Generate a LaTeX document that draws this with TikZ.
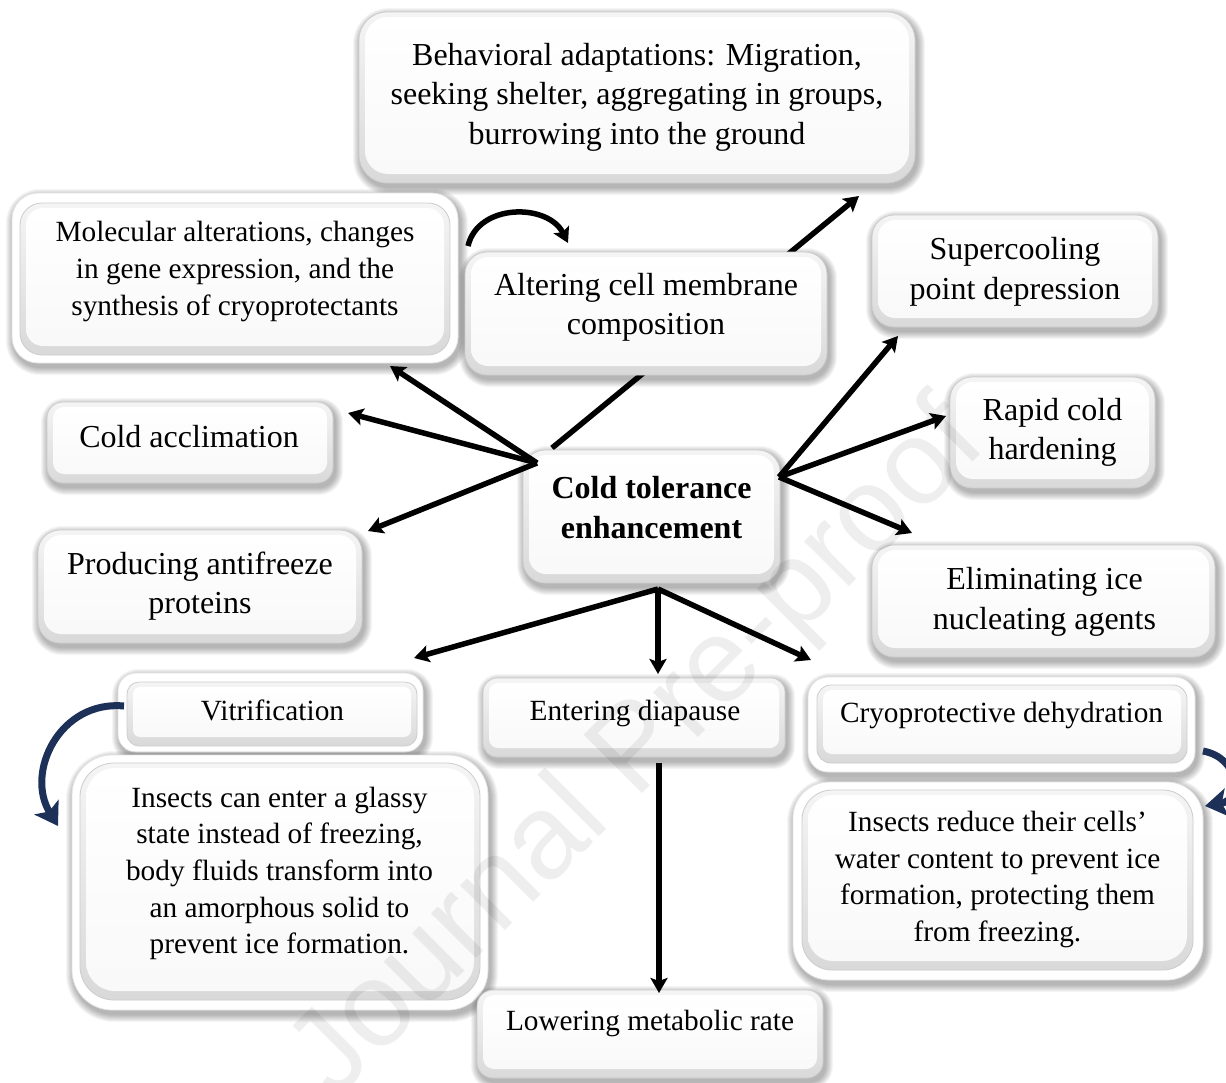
\documentclass[tikz,border=0pt]{standalone}
\usepackage{fontspec}
\setmainfont{Liberation Serif}
\newfontfamily\wmfont{Liberation Sans}
\usetikzlibrary{arrows.meta}
\definecolor{navyarr}{RGB}{28,48,88}
\tikzset{
  bevbox/.style={draw=gray!40, line width=0.8pt, top color=gray!8, bottom color=gray!30, inner sep=0pt},
  frm/.style={draw=gray!22, line width=0.8pt, fill=white, inner sep=0pt},
  tb/.style={font=\fontsize{32}{39.5}\selectfont, align=center, inner sep=0pt},
  ts/.style={font=\fontsize{29.3}{36.7}\selectfont, align=center, inner sep=0pt},
  arr/.style={line width=5.5pt, -{Stealth[length=15pt,width=17pt,inset=3pt]}},
  navarr/.style={line width=7pt, draw=navyarr, -{Stealth[length=22pt,width=28pt,inset=5pt]}},
  wm/.style={font=\wmfont\fontsize{120}{120}\selectfont, text=black, text opacity=0.065, rotate=45, inner sep=0pt}
}
\newcommand{\sshadow}[5]{%
  \foreach \k in {1,...,8}{%
    \pgfmathsetmacro\xa{#1-#3/2-\k+2}%
    \pgfmathsetmacro\xb{#1+#3/2+\k+2}%
    \pgfmathsetmacro\ya{#2-#4/2-\k+4}%
    \pgfmathsetmacro\yb{#2+#4/2+\k+4}%
    \pgfmathsetmacro\rr{#5+\k}%
    \fill[black,opacity=0.04,rounded corners=\rr pt] (\xa,\ya) rectangle (\xb,\yb);%
  }%
}
\newcommand{\bevel}[6]{%
  \node[bevbox, minimum width=#4pt, minimum height=#5pt, rounded corners=#6pt] (#1) at (#2,#3) {};%
  \pgfmathsetmacro\xa{#2-#4/2+6}%
  \pgfmathsetmacro\xb{#2+#4/2-6}%
  \pgfmathsetmacro\ya{#3-#5/2+5}%
  \pgfmathsetmacro\yb{#3+#5/2-9}%
  \pgfmathsetmacro\rr{max(#6-5,3)}%
  \shade[top color=white, bottom color=gray!5, rounded corners=\rr pt] (\xa,\ya) rectangle (\xb,\yb);%
}
\newcommand{\frmbox}[6]{%
  \node[frm, minimum width=#4pt, minimum height=#5pt, rounded corners=#6pt] (#1) at (#2,#3) {};%
}
\begin{document}
\begin{tikzpicture}[x=1pt,y=-1pt]
\useasboundingbox (0,0) rectangle (1226,1082);
\fill[white] (0,0) rectangle (1226,1082);

% Behavioral box first (arrow passes behind the membrane box)
\sshadow{637}{97.5}{556}{171}{28}
\bevel{beh}{637}{97.5}{556}{171}{28}
\node[tb] (behT) at (637,97) {Behavioral adaptations: Migration,\\ seeking shelter, aggregating in groups,\\ burrowing into the ground};

\coordinate (sBeh) at (552,448);
\coordinate (tBeh) at (859,196);
\draw[arr] (sBeh) -- (tBeh);

% Molecular (double frame)
\sshadow{235}{278}{446}{170}{26}
\frmbox{molO}{235}{278}{446}{170}{26}
\bevel{molI}{235}{279}{430}{152}{22}
\node[ts] (molT) at (235,271.5) {Molecular alterations, changes\\ in gene expression, and the\\ synthesis of cryoprotectants};

% Altering
\sshadow{646}{313.5}{362}{123}{22}
\bevel{alt}{646}{313.5}{362}{123}{22}
\node[tb] (altT) at (646,307.5) {Altering cell membrane\\ composition};

% Supercooling
\sshadow{1015}{271}{286}{112}{22}
\bevel{sup}{1015}{271}{286}{112}{22}
\node[tb] (supT) at (1015,272) {Supercooling\\ point depression};

% Cold acclimation
\sshadow{190}{442.5}{286}{81}{16}
\bevel{acc}{190}{442.5}{286}{81}{16}
\node[tb] (accT) at (189,437) {Cold acclimation};

% Centre
\sshadow{651.5}{516.5}{257}{133}{22}
\bevel{ctr}{651.5}{516.5}{257}{133}{22}
\node[tb] (ctrT) at (651.5,507.5) {\textbf{Cold tolerance}\\ \textbf{enhancement}};

% Rapid cold hardening
\sshadow{1052.5}{432.5}{205}{111}{22}
\bevel{rap}{1052.5}{432.5}{205}{111}{22}
\node[tb] (rapT) at (1052.5,432.5) {Rapid cold\\ hardening};

% Producing antifreeze proteins
\sshadow{200}{586.5}{324}{113}{22}
\bevel{pro}{200}{586.5}{324}{113}{22}
\node[tb] (proT) at (200,586) {Producing antifreeze\\ proteins};

% Eliminating
\sshadow{1043.5}{601}{343}{112}{22}
\bevel{eli}{1043.5}{601}{343}{112}{22}
\node[tb] (eliT) at (1044.5,602) {Eliminating ice\\ nucleating agents};

% Vitrification (double frame)
\sshadow{270.5}{712.5}{305}{79}{18}
\frmbox{vitO}{270.5}{712.5}{305}{79}{18}
\bevel{vitI}{272}{714}{290}{64}{12}
\node[ts] (vitT) at (272.5,710) {Vitrification};

% Entering diapause
\sshadow{634}{717.5}{302}{79}{14}
\bevel{dia}{634}{717.5}{302}{79}{14}
\node[ts] (diaT) at (635,713) {Entering diapause};

% Cryoprotective dehydration (double frame)
\sshadow{1001.5}{724.5}{387}{95}{20}
\frmbox{cryO}{1001.5}{724.5}{387}{95}{20}
\bevel{cryI}{1002}{724}{370}{78}{14}
\node[ts] (cryT) at (1001.5,715) {Cryoprotective dehydration};

% Vitrification description (double frame)
\sshadow{280}{882.5}{416}{255}{40}
\frmbox{vdO}{280}{882.5}{416}{255}{40}
\bevel{vdI}{280}{881.5}{400}{237}{34}
\node[ts] (vdT) at (279.5,873.5) {Insects can enter a glassy\\ state instead of freezing,\\ body fluids transform into\\ an amorphous solid to\\ prevent ice formation.};

% Dehydration description (double frame)
\sshadow{998}{881}{410}{198}{36}
\frmbox{cdO}{998}{881}{410}{198}{36}
\bevel{cdI}{997.5}{880}{391}{180}{30}
\node[ts] (cdT) at (997.5,879.5) {Insects reduce their cells'\\ water content to prevent ice\\ formation, protecting them\\ from freezing.};

% Lowering metabolic rate
\sshadow{650}{1034}{346}{88}{16}
\bevel{low}{650}{1034}{346}{88}{16}
\node[ts] (lowT) at (650,1023) {Lowering metabolic rate};

% Connector end points
\coordinate (cL) at (537,463);
\coordinate (cR) at (779,477);
\coordinate (cB) at (658,589);
\coordinate (tMol) at (390,366);
\coordinate (tAcc) at (348,413);
\coordinate (tPro) at (368,531);
\coordinate (tSup) at (898,336);
\coordinate (tRap) at (946,416);
\coordinate (tEli) at (912,533);
\coordinate (tVit) at (414,658);
\coordinate (tDia) at (658,674);
\coordinate (tCry) at (811,660);
\coordinate (sLow) at (659,763);
\coordinate (tLow) at (659,993);
\coordinate (sArc) at (468,246);
\coordinate (tArc) at (568,243);

\draw[arr] (cL) -- (tMol);
\draw[arr] (cL) -- (tAcc);
\draw[arr] (cL) -- (tPro);
\draw[arr] (cR) -- (tSup);
\draw[arr] (cR) -- (tRap);
\draw[arr] (cR) -- (tEli);
\draw[arr] (cB) -- (tVit);
\draw[arr] (cB) -- (tDia);
\draw[arr] (cB) -- (tCry);
\draw[arr] (sLow) -- (tLow);
\draw[arr] (sArc) .. controls (478,203) and (548,203) .. (tArc);

% Navy curved arrows
\coordinate (sNavL) at (124,706);
\coordinate (tNavL) at (58,826);
\draw[navarr] (sNavL) .. controls (60,700) and (25,772) .. (tNavL);
\coordinate (sNavR) at (1203,751);
\coordinate (tNavR) at (1205,806);
\draw[navarr] (sNavR) .. controls (1240,758) and (1242,800) .. (tNavR);

% Watermark
\node[wm] (wmark) at (640,752) {Journal Pre-proof};
\end{tikzpicture}
\end{document}
